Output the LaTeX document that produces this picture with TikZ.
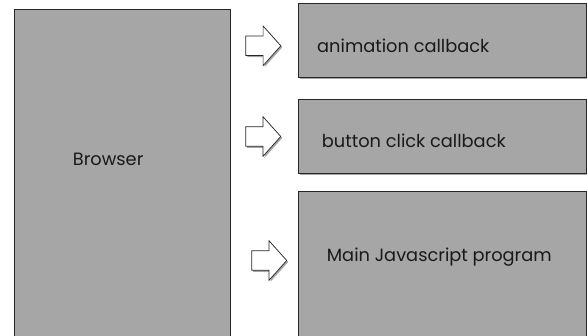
\documentclass[tikz,border=0pt]{standalone}
\usepackage{fontspec}
\setmainfont{Poppins}
\usetikzlibrary{shadows}
\definecolor{boxgray}{RGB}{166,166,166}
\tikzset{
  x=1pt, y=-1pt,
  shadowed/.style={drop shadow={shadow xshift=1.5pt, shadow yshift=-1.5pt, opacity=0.35, fill=black}},
  box/.style={draw=black!85, line width=0.8pt, fill=boxgray, rectangle, inner sep=0pt, anchor=north west, shadowed},
  lbl/.style={anchor=base west, inner sep=0pt, text=black!90, font=\fontsize{17.8}{20}\selectfont},
  blockarrow/.style={draw=black!85, line width=0.7pt, fill=white, shadowed, line join=miter},
  barrow/.pic={\path[blockarrow] (0,-9.8) -- (17.3,-9.8) -- (17.3,-19.8) -- (35,0) -- (17.3,19.8) -- (17.3,9.8) -- (0,9.8) -- cycle;}
}
\begin{document}
\begin{tikzpicture}
\useasboundingbox (0,0) rectangle (587,336);
\node[box, minimum width=215.5pt, minimum height=335pt] (browser) at (14,9) {};
\node[box, minimum width=288pt, minimum height=74pt] (anim) at (298,3) {};
\node[box, minimum width=288pt, minimum height=74pt] (button) at (298,99) {};
\node[box, minimum width=288pt, minimum height=150pt] (main) at (298,191) {};
\node[lbl] (browsertext) at (72.7,165.7) {Browser};
\node[lbl] (animtext) at (317,53) {animation callback};
\node[lbl] (buttontext) at (321.7,148) {button click callback};
\node[lbl] (maintext) at (326.7,262) {Main Javascript program};
\pic (arrow1) at (245.8,45.8) {barrow};
\pic (arrow2) at (245.7,136.5) {barrow};
\pic (arrow3) at (251.7,260.5) {barrow};
\end{tikzpicture}
\end{document}
